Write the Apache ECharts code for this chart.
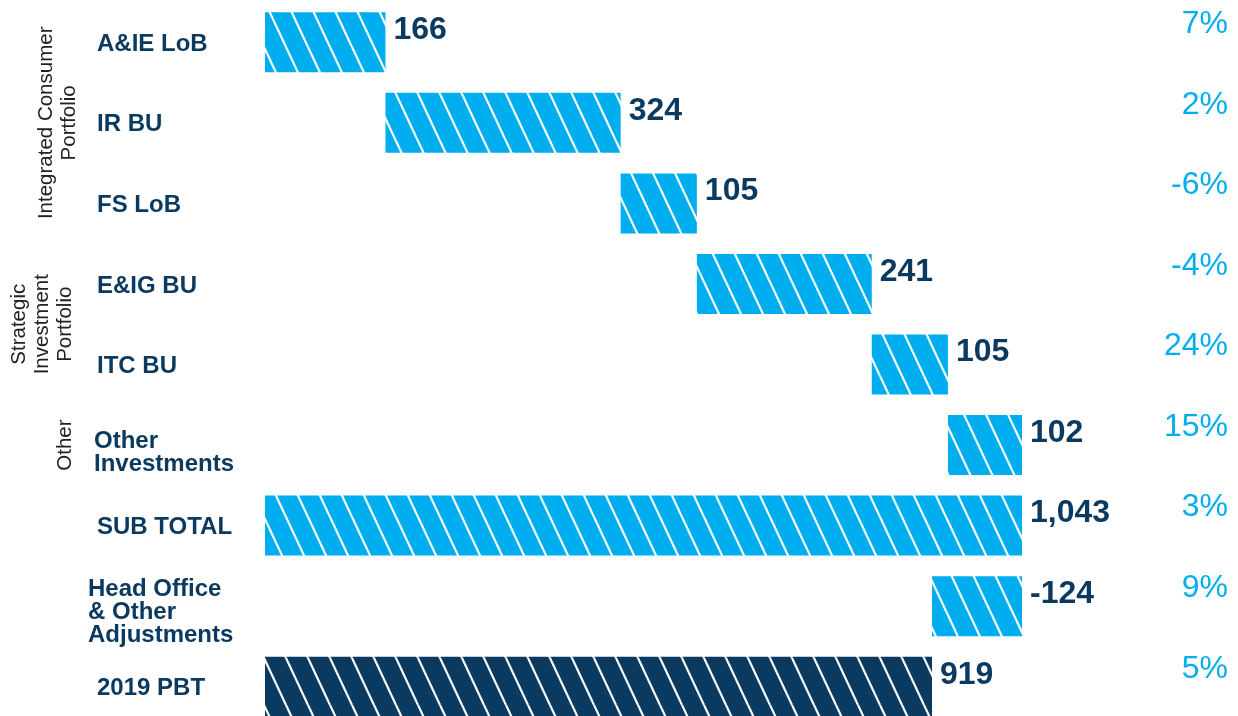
<!DOCTYPE html>
<html>
<head>
<meta charset="utf-8">
<script src="https://cdn.jsdelivr.net/npm/echarts@6/dist/echarts.min.js"></script>
<style>
html,body{margin:0;padding:0;background:#fff;overflow:hidden;}
#chart{width:1238px;height:716px;}
</style>
</head>
<body>
<div id="chart"></div>
<script>
// ---- data ----
const categories = ['A&IE LoB', 'IR BU', 'FS LoB', 'E&IG BU', 'ITC BU', 'Other\nInvestments', 'SUB TOTAL', 'Head Office\n& Other\nAdjustments', '2019 PBT'];
const values = [166, 324, 105, 241, 105, 102, 1043, -124, 919];
const isTotal = [false, false, false, false, false, false, true, false, true];
const percents = ['7%', '2%', '-6%', '-4%', '24%', '15%', '3%', '9%', '5%'];
const groupNames = ['Integrated Consumer\nPortfolio', 'Strategic\nInvestment\nPortfolio', 'Other'];
const groupFirst = [0, 3, 5];
const groupLast = [2, 4, 5];

// ---- derived waterfall ----
const bases = [], lengths = [];
let running = 0;
values.forEach((v, i) => {
  if (isTotal[i]) { bases.push(0); lengths.push(v); running = v; }
  else if (v >= 0) { bases.push(running); lengths.push(v); running += v; }
  else { running += v; bases.push(running); lengths.push(-v); }
});

const CYAN = '#00AEEF', NAVY = '#0B3A60';
function makeHatch(bg) {
  const W = 22, H = 47;
  const c = document.createElement('canvas');
  c.width = W; c.height = H;
  const ctx = c.getContext('2d');
  ctx.fillStyle = bg; ctx.fillRect(0, 0, W, H);
  ctx.strokeStyle = '#ffffff'; ctx.lineWidth = 2.2;
  for (const k of [-1, 0, 1]) {
    ctx.beginPath();
    ctx.moveTo(k * W, 0); ctx.lineTo(k * W + W, H);
    ctx.stroke();
  }
  return { image: c, repeat: 'repeat' };
}
const cyanHatch = makeHatch(CYAN), navyHatch = makeHatch(NAVY);

const chart = echarts.init(document.getElementById('chart'), null, { renderer: 'canvas' });
const FONT = '"Liberation Sans", Arial, sans-serif';
const lblBase = { color: NAVY, fontWeight: 'bold', fontSize: 24, lineHeight: 23, fontFamily: FONT };

chart.setOption({
  animation: false,
  backgroundColor: '#ffffff',
  grid: { left: 265, right: 216, top: 2, height: 725, containLabel: false, outerBoundsMode: 'none' },
  xAxis: { type: 'value', min: 0, max: 1043, show: false },
  yAxis: [
    {
      type: 'category', data: categories, inverse: true,
      axisLine: { show: false }, axisTick: { show: false }, splitLine: { show: false },
      axisLabel: Object.assign({
        align: 'left', margin: 177,
        formatter: value => {
          const lines = value.split('\n');
          const n = lines.length;
          const tag = n === 1 ? 'a' : (n === 2 ? 'b' : 'c');
          return '{s' + n + '| }\n' + lines.map(l => '{' + tag + '|' + l + '}').join('\n');
        },
        rich: {
          s1: { lineHeight: 4, fontSize: 2, height: 4 },
          s2: { lineHeight: 16, fontSize: 2, height: 16 },
          s3: { lineHeight: 12, fontSize: 2, height: 12 },
          a: Object.assign({ padding: [0, 0, 0, 9] }, lblBase),
          b: Object.assign({ padding: [0, 0, 0, 6] }, lblBase),
          c: Object.assign({}, lblBase)
        }
      }, lblBase)
    },
    {
      type: 'category', data: percents, inverse: true, position: 'right',
      axisLine: { show: false }, axisTick: { show: false }, splitLine: { show: false },
      axisLabel: {
        align: 'right', margin: 206, color: CYAN, fontSize: 32,
        fontFamily: FONT, verticalAlign: 'bottom', lineHeight: 36
      }
    }
  ],
  series: [
    {
      type: 'bar', stack: 'wf', data: bases, barWidth: 60,
      itemStyle: { color: 'rgba(0,0,0,0)' }, silent: true
    },
    {
      type: 'bar', stack: 'wf', barWidth: 60,
      data: lengths.map((l, i) => ({
        value: l,
        itemStyle: { color: i === values.length - 1 ? navyHatch : cyanHatch }
      })),
      label: {
        show: true, position: ['100%', 0], offset: [8, 2],
        color: NAVY, fontWeight: 'bold', fontSize: 32, fontFamily: FONT,
        formatter: p => values[p.dataIndex].toLocaleString('en-US')
      }
    }
  ]
});

// group labels (rotated), positioned from the category axis
const groupX = [81, 77, 77];
const graphics = groupNames.map((name, g) => {
  const y1 = chart.convertToPixel({ yAxisIndex: 0 }, categories[groupFirst[g]]);
  const y2 = chart.convertToPixel({ yAxisIndex: 0 }, categories[groupLast[g]]);
  return {
    type: 'text', x: groupX[g], y: (y1 + y2) / 2, rotation: Math.PI / 2,
    style: {
      text: name, fill: '#222222', fontSize: 20.5, fontFamily: FONT,
      lineHeight: 23, align: 'center', verticalAlign: 'bottom'
    }
  };
});
chart.setOption({ graphic: graphics });
</script>
</body>
</html>
